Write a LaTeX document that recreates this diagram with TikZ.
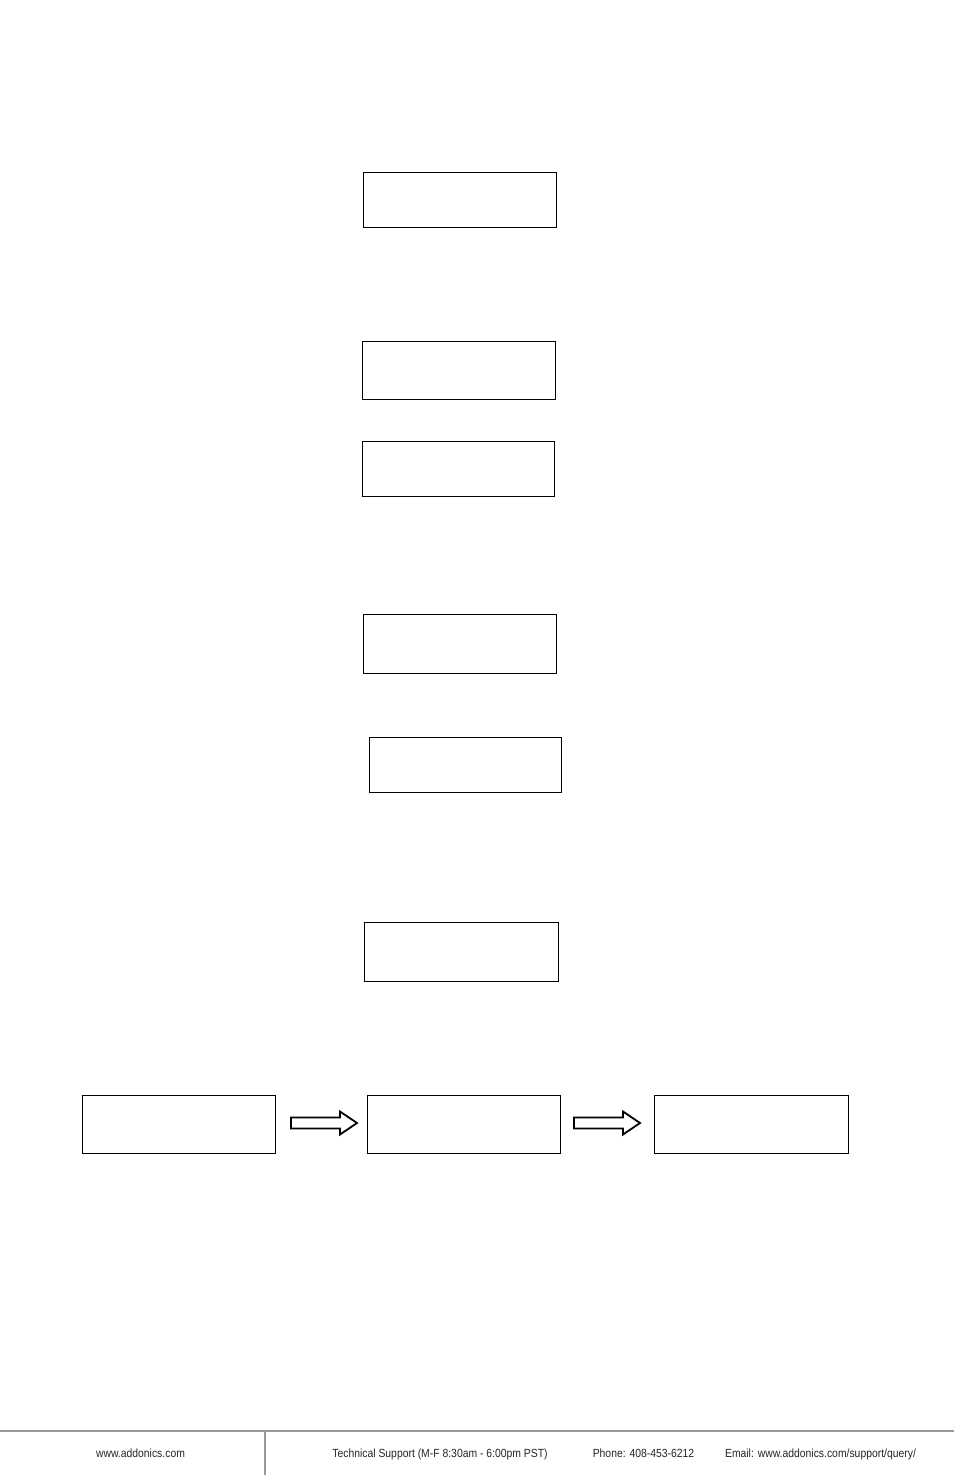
\documentclass[tikz,border=0pt]{standalone}
\usepackage{fontspec}
\setmainfont{Liberation Sans}
\newfontfamily\footfont[FakeStretch=0.88]{Liberation Sans}
\begin{document}
\begin{tikzpicture}[x=1pt,y=-1pt,
  box/.style={draw=black,line width=1pt,rectangle,inner sep=0pt},
  blockarrow/.style={draw=black,line width=1.8pt,fill=white,line join=miter},
  foot/.style={font=\footfont\fontsize{11.8}{13}\selectfont,text=black!85,inner sep=0pt,anchor=base},
  rule/.style={draw=black!40,line width=1.3pt}]
\useasboundingbox (0,0) rectangle (954,1475);
\fill[white] (0,0) rectangle (954,1475);
\newcommand{\mybox}[5]{\node[box,minimum width={#4-#2},minimum height={#5-#3}] (#1) at ({(#2+#4)/2},{(#3+#5)/2}) {};}
\mybox{b1}{363}{172}{556}{227}
\mybox{b2}{362}{341}{555}{399}
\mybox{b3}{362}{441}{554}{496}
\mybox{b4}{363}{614}{556}{673}
\mybox{b5}{369}{737}{561}{792}
\mybox{b6}{364}{922}{558}{981}
\mybox{r1}{82}{1095}{275}{1153}
\mybox{r2}{367}{1095}{560}{1153}
\mybox{r3}{654}{1095}{848}{1153}
% block arrows
\coordinate (a1) at (291,1123);
\coordinate (a2) at (574,1123);
\foreach \a in {a1,a2}{
  \draw[blockarrow] (\a) ++(0,-5.5) -- ++(49,0) -- ++(0,-6) -- ++(17,11.5) -- ++(-17,11.5) -- ++(0,-6) -- ++(-49,0) -- cycle;
}
% footer
\coordinate (fl) at (0,1431);
\coordinate (fr) at (954,1431);
\coordinate (vt) at (265,1431);
\coordinate (vb) at (265,1475);
\draw[rule] (fl) -- (fr);
\draw[rule] (vt) -- (vb);
\node[foot] (f1) at (140.5,1457) {www.addonics.com};
\node[foot] (f2) at (440,1457) {Technical Support (M-F 8:30am - 6:00pm PST)};
\node[foot] (f3) at (643.5,1457) {Phone: 408-453-6212};
\node[foot] (f4) at (820.5,1457) {Email: www.addonics.com/support/query/};
\end{tikzpicture}
\end{document}
